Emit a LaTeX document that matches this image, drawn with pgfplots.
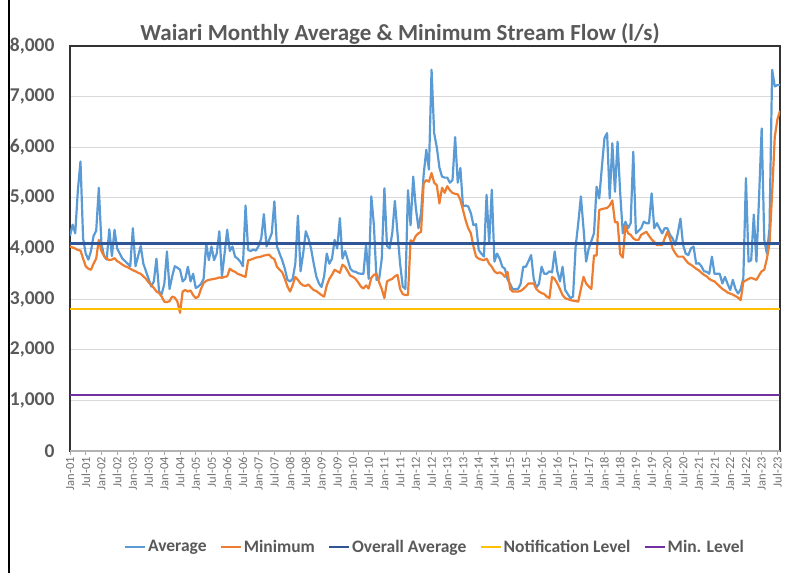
\documentclass[border=0pt]{standalone}
\usepackage{pgfplots}
\pgfplotsset{compat=1.18}
\usepackage{pgfplotstable}
\usepackage{fontspec}
\setmainfont{Carlito}
\definecolor{cavg}{HTML}{5B9BD5}
\definecolor{cmin}{HTML}{ED7D31}
\definecolor{covr}{HTML}{2F5597}
\definecolor{cnot}{HTML}{FFC000}
\definecolor{clev}{HTML}{7030A0}
\definecolor{ctxt}{HTML}{595959}
\definecolor{cgrid}{HTML}{D9D9D9}
\pgfplotstableread{
m a n
0 4250 4040
1 4470 4020
2 4300 4000
3 5150 3970
4 5720 3960
5 4200 3800
6 3900 3650
7 3780 3600
8 3950 3580
9 4250 3700
10 4350 3800
11 5200 4170
12 4100 3950
13 3850 3850
14 3780 3800
15 4380 3770
16 3850 3780
17 4370 3810
18 4000 3750
19 3900 3720
20 3800 3680
21 3750 3650
22 3700 3630
23 3650 3600
24 4400 3570
25 3650 3550
26 3850 3520
27 4050 3500
28 3700 3450
29 3550 3400
30 3400 3330
31 3250 3280
32 3350 3220
33 3800 3150
34 3150 3120
35 3100 3050
36 3300 2950
37 3940 2940
38 3200 2960
39 3450 3050
40 3650 3030
41 3620 2950
42 3580 2730
43 3350 3150
44 3400 3180
45 3640 3150
46 3350 3170
47 3500 3080
48 3220 3020
49 3250 3050
50 3300 3200
51 3400 3320
52 4100 3360
53 3770 3380
54 4040 3390
55 3770 3400
56 3900 3410
57 4340 3430
58 3450 3420
59 3900 3440
60 4370 3450
61 3950 3600
62 4040 3560
63 3840 3540
64 3800 3500
65 3740 3480
66 3650 3460
67 4850 3440
68 3970 3770
69 3950 3780
70 3980 3800
71 3960 3820
72 4050 3830
73 4200 3840
74 4680 3860
75 4040 3870
76 4170 3880
77 4300 3820
78 4930 3790
79 4040 3640
80 3900 3580
81 3770 3530
82 3600 3400
83 3380 3250
84 3350 3150
85 3400 3280
86 3700 3440
87 4650 3380
88 3550 3310
89 3900 3270
90 4340 3260
91 4200 3290
92 4000 3230
93 3710 3180
94 3450 3160
95 3310 3120
96 3240 3080
97 3450 3050
98 3900 3270
99 3700 3400
100 3800 3480
101 4170 3580
102 4000 3550
103 4600 3520
104 3800 3680
105 3950 3640
106 3780 3550
107 3600 3460
108 3550 3440
109 3540 3400
110 3510 3330
111 3500 3250
112 3500 3210
113 4070 3270
114 3400 3210
115 5030 3420
116 4460 3480
117 3380 3500
118 3400 3330
119 3800 3200
120 5190 3020
121 4050 3350
122 4000 3380
123 4300 3400
124 4940 3450
125 4300 3480
126 3700 3200
127 3250 3100
128 3200 3080
129 5150 3080
130 4460 4160
131 5420 4140
132 4800 4250
133 4400 4300
134 4700 4330
135 5470 5290
136 5950 5350
137 5560 5320
138 7530 5490
139 6280 5300
140 6000 5250
141 5600 4890
142 5420 5200
143 5400 5100
144 5400 5230
145 5300 5150
146 5350 5100
147 6200 5080
148 5300 5070
149 5590 4960
150 4830 4760
151 4850 4560
152 4830 4400
153 4700 4300
154 4460 4040
155 4480 3840
156 3970 3800
157 3900 3780
158 3840 3770
159 5060 3800
160 4100 3700
161 5160 3640
162 3740 3550
163 3900 3510
164 3800 3530
165 3640 3500
166 3600 3440
167 3390 3540
168 3300 3200
169 3190 3150
170 3200 3150
171 3200 3150
172 3300 3160
173 3640 3200
174 3640 3250
175 3750 3310
176 3870 3310
177 3400 3310
178 3230 3200
179 3300 3150
180 3640 3120
181 3500 3100
182 3500 3050
183 3550 3020
184 3530 3440
185 3940 3400
186 3550 3310
187 3350 3200
188 3640 3080
189 3180 3020
190 3100 3000
191 3020 2980
192 3050 2970
193 4040 2960
194 4500 2950
195 5030 3200
196 4400 3440
197 3740 3310
198 4000 3250
199 4150 3200
200 4300 3860
201 5220 3860
202 4990 4760
203 5600 4780
204 6180 4790
205 6280 4800
206 4990 4850
207 6080 4950
208 5120 4520
209 6110 4520
210 5100 3890
211 4300 3820
212 4530 4450
213 4400 4300
214 4500 4270
215 5910 4200
216 4300 4170
217 4350 4170
218 4400 4270
219 4530 4300
220 4500 4330
221 4500 4250
222 5090 4180
223 4400 4130
224 4500 4070
225 4400 4070
226 4300 4070
227 4400 4200
228 4400 4330
229 4270 4200
230 4200 4000
231 4070 3910
232 4300 3840
233 4590 3840
234 4070 3840
235 3900 3770
236 3870 3710
237 4000 3680
238 4040 3640
239 3700 3600
240 3710 3570
241 3650 3520
242 3550 3480
243 3540 3450
244 3500 3400
245 3840 3370
246 3500 3350
247 3500 3300
248 3500 3250
249 3310 3200
250 3440 3170
251 3300 3130
252 3180 3110
253 3380 3090
254 3200 3060
255 3110 3030
256 3200 2980
257 3410 3340
258 5390 3370
259 3740 3400
260 3770 3420
261 4670 3400
262 3740 3380
263 5000 3470
264 6370 3550
265 4170 3580
266 3900 3800
267 4400 4100
268 7530 5100
269 7200 6200
270 7230 6550
271 7230 6720
}\flowdata
\begin{document}
\begin{tikzpicture}
\useasboundingbox (0,0) rectangle (787pt,573pt);
\draw[black, line width=1.2pt] (9pt,0pt) -- (9pt,573pt);
\begin{axis}[
  at={(70pt,122pt)}, anchor=south west,
  scale only axis, width=710pt, height=405pt,
  xmin=0, xmax=271, ymin=0, ymax=8000,
  xtick={0,6,...,270},
  xticklabels={Jan-01,Jul-01,Jan-02,Jul-02,Jan-03,Jul-03,Jan-04,Jul-04,Jan-05,Jul-05,Jan-06,Jul-06,Jan-07,Jul-07,Jan-08,Jul-08,Jan-09,Jul-09,Jan-10,Jul-10,Jan-11,Jul-11,Jan-12,Jul-12,Jan-13,Jul-13,Jan-14,Jul-14,Jan-15,Jul-15,Jan-16,Jul-16,Jan-17,Jul-17,Jan-18,Jul-18,Jan-19,Jul-19,Jan-20,Jul-20,Jan-21,Jul-21,Jan-22,Jul-22,Jan-23,Jul-23},
  xticklabel style={rotate=90, anchor=east, font=\fontsize{12.5}{12.5}\selectfont, text=ctxt!85, inner sep=2pt},
  ytick={0,1000,...,8000},
  scaled y ticks=false,
  yticklabel style={font=\bfseries\fontsize{19.5}{19.5}\selectfont, text=ctxt, /pgf/number format/1000 sep={,}, /pgf/number format/assume math mode=true, xshift=-8pt},
  ymajorgrids, major grid style={cgrid, line width=1pt},
  axis line style={black!80, line width=1.3pt},
  tick align=outside,
  xtick style={gray!70, line width=0.6pt},
  major tick length=4pt,
  ytick style={draw=none},
  xtick pos=bottom,
  legend columns=5,
  legend style={at={(0.514,-0.237)}, anchor=center, draw=none, fill=none,
    font=\bfseries\fontsize{17.5}{17.5}\selectfont, text=ctxt,
    /tikz/every even column/.append style={column sep=11pt},
    inner sep=0pt},
  legend image code/.code={\draw[#1] (0pt,0pt) -- (20pt,0pt);},
  legend cell align=left,
]
\addplot[cavg, line width=2.2pt, line join=round] table[x=m, y=a] {\flowdata};
\addlegendentry{Average}
\addplot[cmin, line width=2.2pt, line join=round] table[x=m, y=n] {\flowdata};
\addlegendentry{Minimum}
\addplot[covr, line width=2.2pt] coordinates {(0,4100) (271,4100)};
\addlegendentry{Overall Average}
\addplot[cnot, line width=2.2pt] coordinates {(0,2800) (271,2800)};
\addlegendentry{Notification Level}
\addplot[clev, line width=2.2pt] coordinates {(0,1100) (271,1100)};
\addlegendentry{Min. Level}
\draw[gray!60, line width=1.2pt] (axis cs:0,0) -- (axis cs:271,0);
\end{axis}
\node[font=\bfseries\fontsize{23}{23}\selectfont, text=ctxt] at (400pt,539pt) {Waiari Monthly Average \& Minimum Stream Flow (l/s)};
\end{tikzpicture}
\end{document}
